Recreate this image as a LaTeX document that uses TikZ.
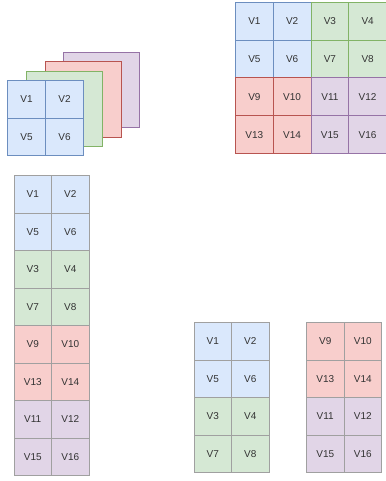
\documentclass[tikz,border=0pt]{standalone}
\usepackage{fontspec}
\setmainfont{Liberation Sans}
\definecolor{bfill}{HTML}{DAE8FC}\definecolor{bline}{HTML}{6C8EBF}
\definecolor{gfill}{HTML}{D5E8D4}\definecolor{gline}{HTML}{82B366}
\definecolor{rfill}{HTML}{F8CECC}\definecolor{rline}{HTML}{B85450}
\definecolor{pfill}{HTML}{E1D5E7}\definecolor{pline}{HTML}{9673A6}
\definecolor{greyline}{HTML}{A0A0A0}
\definecolor{txt}{HTML}{333333}
\tikzset{
  cell/.style={rectangle, inner sep=0pt, minimum width=37.75pt, minimum height=37.75pt,
    anchor=north west, line width=1pt, text=txt, font=\fontsize{10}{12}\selectfont},
  cb/.style={cell, fill=bfill, draw=bline},
  cg/.style={cell, fill=gfill, draw=gline},
  cr/.style={cell, fill=rfill, draw=rline},
  cp/.style={cell, fill=pfill, draw=pline},
  gb/.style={cell, fill=bfill, draw=greyline, minimum width=37.5pt, minimum height=37.5pt},
  gg/.style={cell, fill=gfill, draw=greyline, minimum width=37.5pt, minimum height=37.5pt},
  gr/.style={cell, fill=rfill, draw=greyline, minimum width=37.5pt, minimum height=37.5pt},
  gp/.style={cell, fill=pfill, draw=greyline, minimum width=37.5pt, minimum height=37.5pt},
  layer/.style={rectangle, inner sep=0pt, minimum width=76pt, minimum height=75.5pt,
    anchor=north west, line width=1pt},
}
\begin{document}
\begin{tikzpicture}[x=1pt,y=-1pt]
\useasboundingbox (0,0) rectangle (385,481);
% stacked layers
\node[layer, fill=pfill, draw=pline] (lp) at (63,52) {};
\node[layer, fill=rfill, draw=rline] (lr) at (44.5,61.5) {};
\node[layer, fill=gfill, draw=gline] (lg) at (26,71) {};
\node[cb, minimum width=38pt, minimum height=37.75pt] (s1) at (7,80) {V1};
\node[cb, minimum width=38pt, minimum height=37.75pt] (s2) at (45,80) {V2};
\node[cb, minimum width=38pt, minimum height=37.75pt] (s5) at (7,117.75) {V5};
\node[cb, minimum width=38pt, minimum height=37.75pt] (s6) at (45,117.75) {V6};
% top-right 4x4 grid
\node[cb] (a1) at (235,2) {V1};
\node[cb] (a2) at (272.75,2) {V2};
\node[cb] (a5) at (235,39.75) {V5};
\node[cb] (a6) at (272.75,39.75) {V6};
\node[cg] (a3) at (310.5,2) {V3};
\node[cg] (a4) at (348.25,2) {V4};
\node[cg] (a7) at (310.5,39.75) {V7};
\node[cg] (a8) at (348.25,39.75) {V8};
\node[cr] (a9) at (235,77.5) {V9};
\node[cr] (a10) at (272.75,77.5) {V10};
\node[cr] (a13) at (235,115.25) {V13};
\node[cr] (a14) at (272.75,115.25) {V14};
\node[cp] (a11) at (310.5,77.5) {V11};
\node[cp] (a12) at (348.25,77.5) {V12};
\node[cp] (a15) at (310.5,115.25) {V15};
\node[cp] (a16) at (348.25,115.25) {V16};
% left column
\node[gb] (b1) at (13.5,175) {V1};
\node[gb] (b2) at (51,175) {V2};
\node[gb] (b5) at (13.5,212.5) {V5};
\node[gb] (b6) at (51,212.5) {V6};
\node[gg] (b3) at (13.5,250) {V3};
\node[gg] (b4) at (51,250) {V4};
\node[gg] (b7) at (13.5,287.5) {V7};
\node[gg] (b8) at (51,287.5) {V8};
\node[gr] (b9) at (13.5,325) {V9};
\node[gr] (b10) at (51,325) {V10};
\node[gr] (b13) at (13.5,362.5) {V13};
\node[gr] (b14) at (51,362.5) {V14};
\node[gp] (b11) at (13.5,400) {V11};
\node[gp] (b12) at (51,400) {V12};
\node[gp] (b15) at (13.5,437.5) {V15};
\node[gp] (b16) at (51,437.5) {V16};
% bottom middle
\node[gb] (c1) at (193.5,322) {V1};
\node[gb] (c2) at (231,322) {V2};
\node[gb] (c5) at (193.5,359.5) {V5};
\node[gb] (c6) at (231,359.5) {V6};
\node[gg] (c3) at (193.5,397) {V3};
\node[gg] (c4) at (231,397) {V4};
\node[gg] (c7) at (193.5,434.5) {V7};
\node[gg] (c8) at (231,434.5) {V8};
% bottom right
\node[gr] (d9) at (306,322) {V9};
\node[gr] (d10) at (343.5,322) {V10};
\node[gr] (d13) at (306,359.5) {V13};
\node[gr] (d14) at (343.5,359.5) {V14};
\node[gp] (d11) at (306,397) {V11};
\node[gp] (d12) at (343.5,397) {V12};
\node[gp] (d15) at (306,434.5) {V15};
\node[gp] (d16) at (343.5,434.5) {V16};
\end{tikzpicture}
\end{document}
